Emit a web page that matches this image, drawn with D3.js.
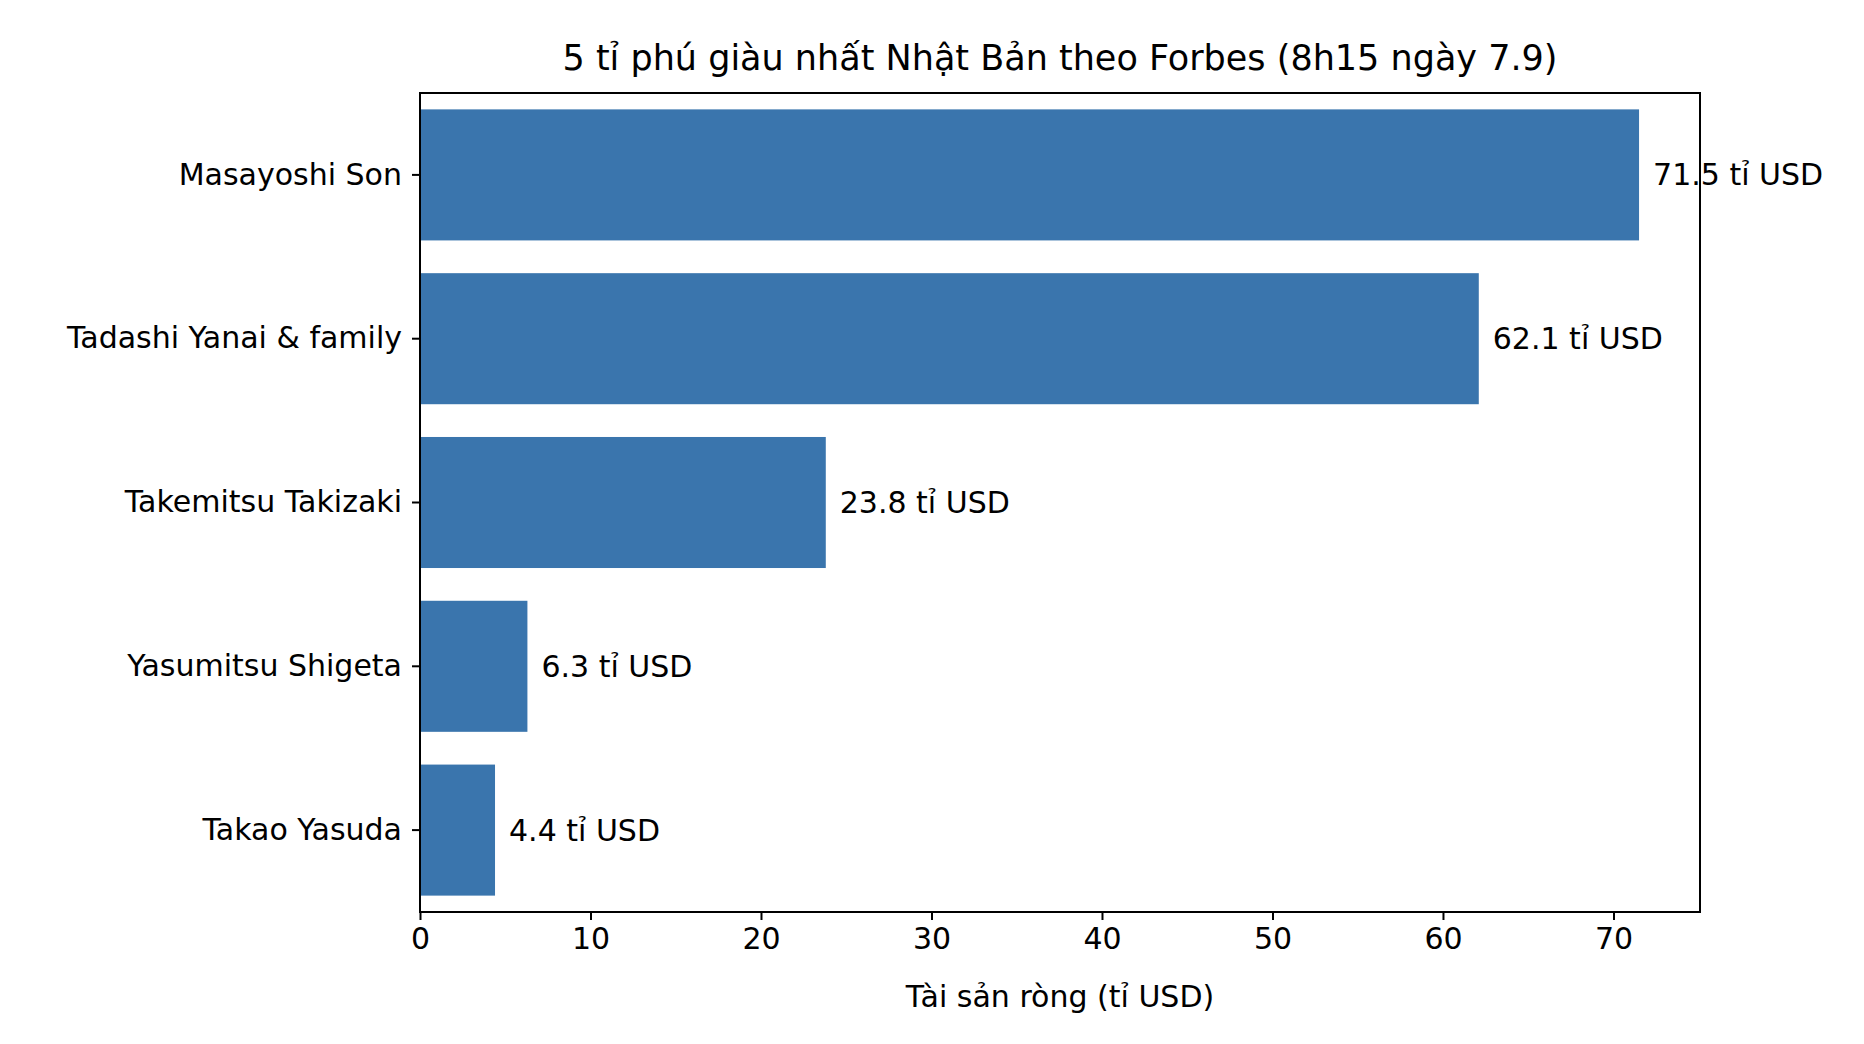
<!DOCTYPE html>
<html><head><meta charset="utf-8">
<script src="https://cdn.jsdelivr.net/npm/d3@7"></script>
<style>body{margin:0;background:#fff}text{font-family:"DejaVu Sans",sans-serif;fill:#000}</style>
</head><body><svg id="c" width="1864" height="1044"></svg>
<script>
const names = ['Masayoshi Son', 'Tadashi Yanai & family', 'Takemitsu Takizaki', 'Yasumitsu Shigeta', 'Takao Yasuda']
const values = [71.5, 62.1, 23.8, 6.3, 4.4]
const xTicks = [0, 10, 20, 30, 40, 50, 60, 70]

const mLeft = 420, mRight = 1700, mTop = 93, mBottom = 912
const svg = d3.select('#c')

const x = d3.scaleLinear().domain([0, 75.075]).range([mLeft, mRight])
const y = d3.scaleBand().domain(names).range([mTop, mBottom]).paddingInner(0.2).paddingOuter(0.1)

svg.selectAll('rect.bar').data(values).enter().append('rect')
    .attr('x', x(0))
    .attr('y', (d, i) => y(names[i]))
    .attr('width', d => x(d) - x(0))
    .attr('height', y.bandwidth())
    .attr('fill', '#3a75ad')

svg.selectAll('text.val').data(values).enter().append('text')
    .attr('x', d => x(d) + 14)
    .attr('y', (d, i) => y(names[i]) + y.bandwidth() / 2)
    .attr('dy', '.35em')
    .style('font-size', '30px')
    .text(d => d + ' tỉ USD')

const xa = svg.append('g').attr('transform', 'translate(0,' + mBottom + ')')
    .call(d3.axisBottom(x).tickValues(xTicks).tickSize(8).tickPadding(8))
const ya = svg.append('g').attr('transform', 'translate(' + mLeft + ',0)')
    .call(d3.axisLeft(y).tickSize(8).tickPadding(10))
for (const a of [xa, ya]) {
    a.select('.domain').remove()
    a.selectAll('line').attr('stroke', '#000').attr('stroke-width', 2)
    a.selectAll('text').style('font-size', '30px').style('font-family', 'DejaVu Sans')
}

svg.append('rect').attr('x', mLeft).attr('y', mTop).attr('width', mRight - mLeft).attr('height', mBottom - mTop)
    .attr('fill', 'none').attr('stroke', '#000').attr('stroke-width', 2)

svg.append('text').attr('x', (mLeft + mRight) / 2).attr('y', 70).attr('text-anchor', 'middle')
    .style('font-size', '35px').text('5 tỉ phú giàu nhất Nhật Bản theo Forbes (8h15 ngày 7.9)')
svg.append('text').attr('x', (mLeft + mRight) / 2).attr('y', 1007).attr('text-anchor', 'middle')
    .style('font-size', '30px').text('Tài sản ròng (tỉ USD)')
</script></body></html>
